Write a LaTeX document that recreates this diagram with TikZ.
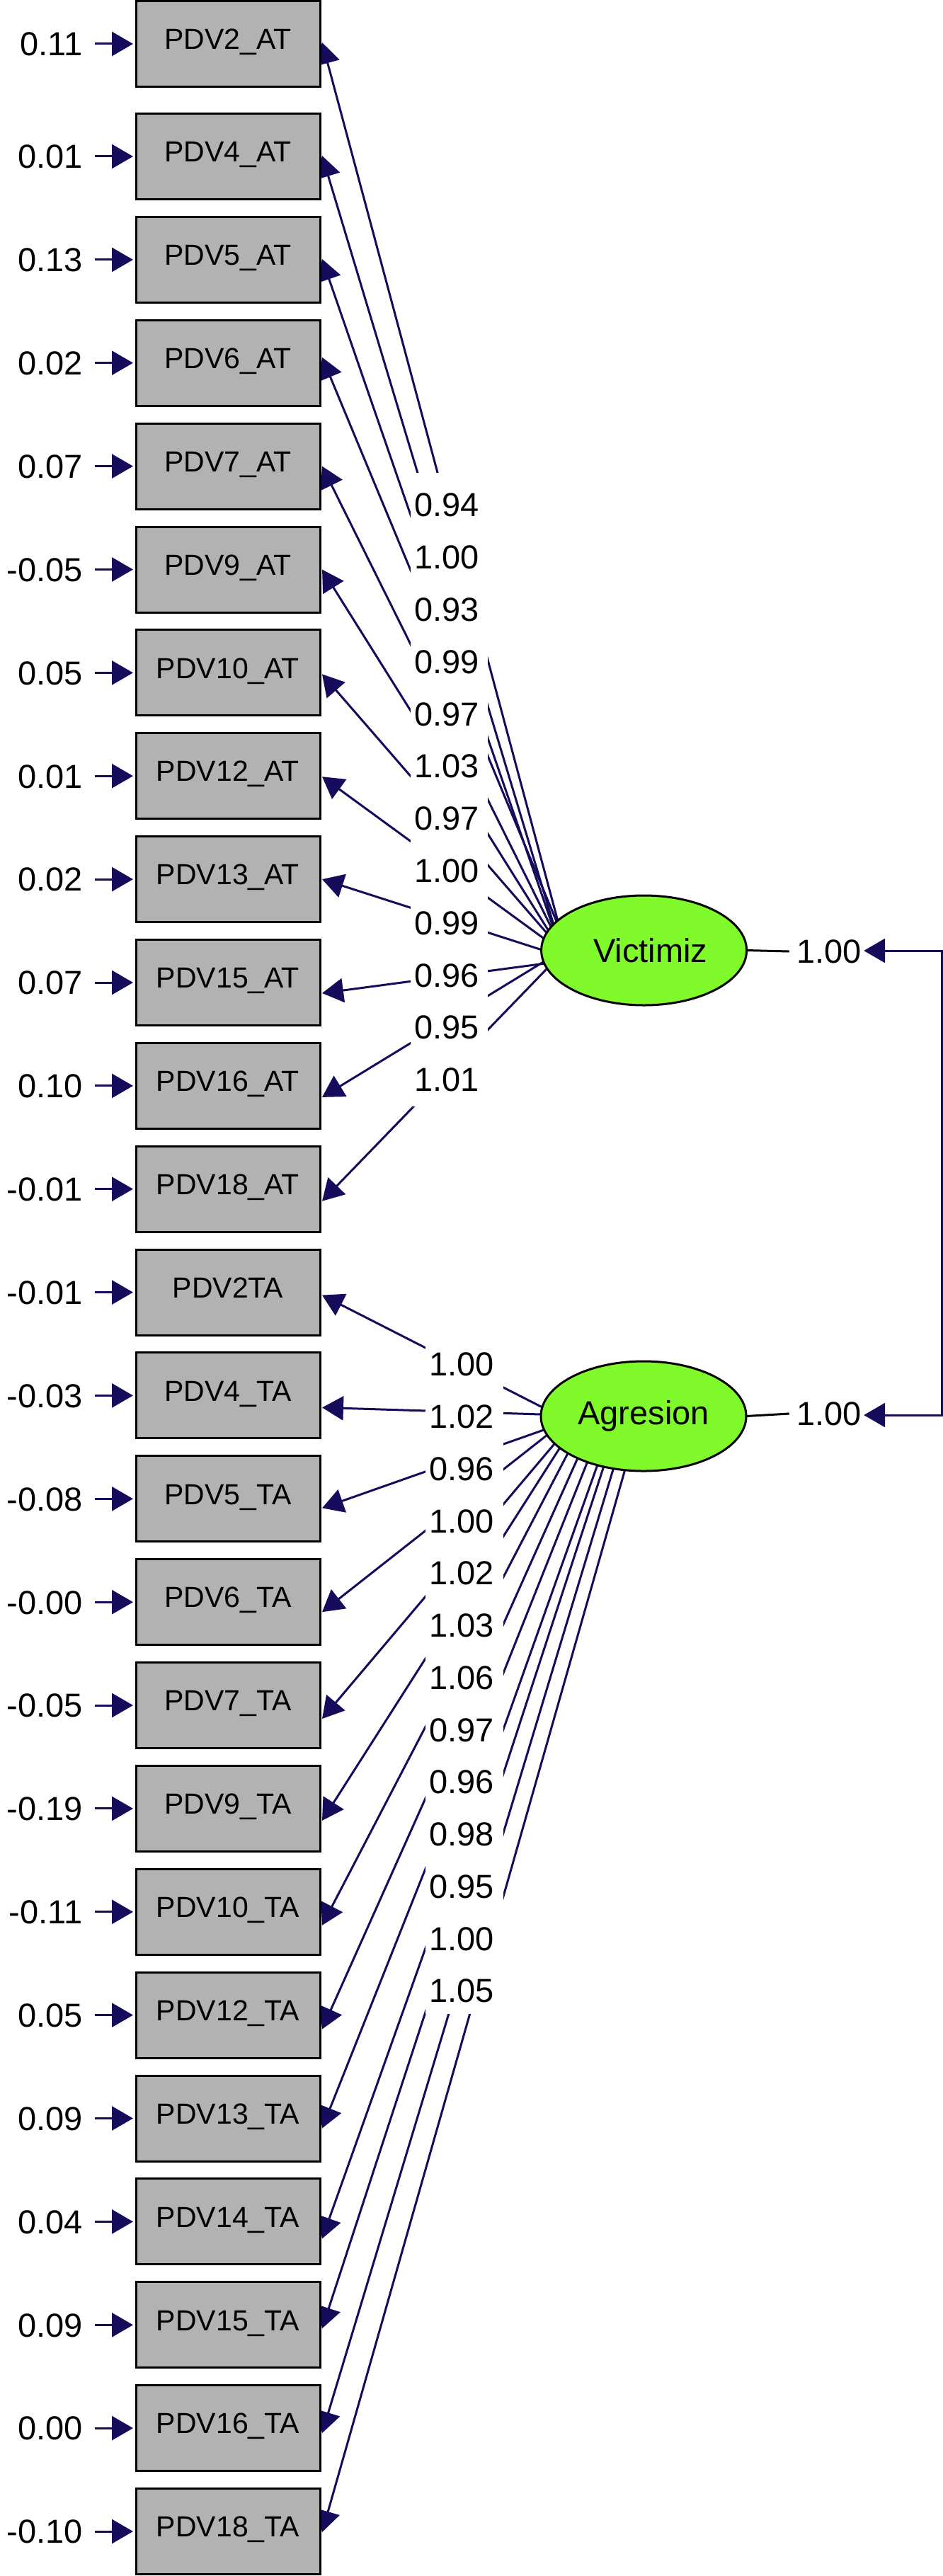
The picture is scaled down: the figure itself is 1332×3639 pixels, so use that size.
\documentclass[tikz,border=0pt]{standalone}
\usepackage{fontspec}
\setmainfont{Liberation Sans}
\usetikzlibrary{arrows.meta,calc,shapes.geometric}
\definecolor{navy}{RGB}{22,12,92}
\definecolor{lime}{RGB}{128,250,42}
\definecolor{boxgray}{RGB}{178,178,178}
\pgfdeclarelayer{bg}
\pgfsetlayers{bg,main}
\begin{document}
\begin{tikzpicture}[x=0.5pt,y=-0.5pt,
  obs/.style={draw=black, line width=1.5pt, fill=boxgray, minimum width=130pt, minimum height=60.5pt,
    inner sep=0pt, outer sep=0pt, font=\fontsize{20.5pt}{24pt}\selectfont, text height=14.7pt, text depth=7pt},
  lat/.style={ellipse, draw=black, line width=1.5pt, fill=lime, minimum width=145pt, minimum height=77.5pt,
    inner sep=0pt, outer sep=0pt, font=\fontsize{23.5pt}{28pt}\selectfont},
  num/.style={font=\fontsize{23.5pt}{28pt}\selectfont, inner sep=0pt, text height=16.8pt, text depth=0pt},
  tip/.style={-{Triangle[length=15pt,width=17pt]}},
  load/.style={draw=navy, line width=1.5pt, tip},
  errarr/.style={draw=navy, line width=1.5pt, tip},
  cov/.style={draw=navy, line width=1.5pt, {Triangle[length=15pt,width=17pt]}-{Triangle[length=15pt,width=17pt]}},
  varline/.style={draw=black, line width=1.5pt}
]
\useasboundingbox (0,0) rectangle (1332,3639);

% observed variables and their error terms
\foreach \k/\yy/\nm/\ev in {
 0/62/PDV2\_AT/0.11,
 1/221/PDV4\_AT/0.01,
 2/366.9/PDV5\_AT/0.13,
 3/512.7/PDV6\_AT/0.02,
 4/658.6/PDV7\_AT/0.07,
 5/804.5/PDV9\_AT/-0.05,
 6/950.4/PDV10\_AT/0.05,
 7/1096.2/PDV12\_AT/0.01,
 8/1242.1/PDV13\_AT/0.02,
 9/1388/PDV15\_AT/0.07,
 10/1533.9/PDV16\_AT/0.10,
 11/1679.7/PDV18\_AT/-0.01,
 12/1825.6/PDV2TA/-0.01,
 13/1971.4/PDV4\_TA/-0.03,
 14/2117.3/PDV5\_TA/-0.08,
 15/2263.2/PDV6\_TA/-0.00,
 16/2409/PDV7\_TA/-0.05,
 17/2554.9/PDV9\_TA/-0.19,
 18/2700.8/PDV10\_TA/-0.11,
 19/2846.6/PDV12\_TA/0.05,
 20/2992.5/PDV13\_TA/0.09,
 21/3138.4/PDV14\_TA/0.04,
 22/3284.3/PDV15\_TA/0.09,
 23/3430.1/PDV16\_TA/0.00,
 24/3576/PDV18\_TA/-0.10}{
  \node[obs] (b\k) at (322,\yy) {\nm};
  \node[num, anchor=east] (e\k) at (117,\yy) {\ev};
  \draw[errarr] ([xshift=8.5pt]e\k.east) -- ([xshift=-2pt]b\k.west);
}

% latent variables
\node[lat] (V) at (909.6,1342.5) {\hspace*{9pt}Victimiz};
\node[lat] (A) at (909,2000.5) {Agresion};

% loadings of Victimiz
\foreach \k/\dy/\ey in {0/-2/1346, 1/-1/1366, 2/-1/1364, 3/-8/1335, 4/0/1353, 5/0/1355,
  6/2/1350, 7/1/1349, 8/0/1353, 9/15/1357, 10/16/1339, 11/17/1340}{
  \coordinate (vin\k) at (800,\ey);
  \begin{pgfonlayer}{bg}
    \draw[load] (vin\k) -- ([shift={(3,\dy)}]b\k.east);
  \end{pgfonlayer}
}

% loadings of Agresion
\foreach \k/\dy/\ex/\ey in {12/4/766/1988, 13/17/764/1998, 14/13/768/2020, 15/14/773/2027,
  16/19/782/2041, 17/17/789/2048, 18/19/801/2055, 19/20/815/2062, 20/14/829/2067,
  21/24/843/2072, 22/5/852/2074, 23/7/866/2076, 24/1/882/2079}{
  \coordinate (t\k) at ([shift={(3,\dy)}]b\k.east);
  \coordinate (ain\k) at ($(t\k)!1.03!(\ex,\ey)$);
  \begin{pgfonlayer}{bg}
    \draw[load] (ain\k) -- (t\k);
  \end{pgfonlayer}
}

% label columns (opaque background of the coefficients)
\fill[white] (580,668) rectangle (689,1563);
\fill[white] (601,1888) rectangle (711,2845);

\foreach \i/\lab/\ly in {0/0.94/713, 1/1.00/786.8, 2/0.93/860.6, 3/0.99/934.4, 4/0.97/1008.2,
  5/1.03/1082, 6/0.97/1155.8, 7/1.00/1229.6, 8/0.99/1303.4, 9/0.96/1377.2, 10/0.95/1451, 11/1.01/1524.8}{
  \node[num] (lv\i) at (631,\ly) {\lab};
}
\foreach \i/\lab/\ly in {12/1.00/1927, 13/1.02/2000.75, 14/0.96/2074.5, 15/1.00/2148.25, 16/1.02/2222,
  17/1.03/2295.75, 18/1.06/2369.5, 19/0.97/2443.25, 20/0.96/2517, 21/0.98/2590.75, 22/0.95/2664.5,
  23/1.00/2738.25, 24/1.05/2812}{
  \node[num] (la\i) at (652,\ly) {\lab};
}

% variances and covariance
\node[num] (rv) at (1171,1344) {1.00};
\node[num] (ra) at (1171,1997) {1.00};
\draw[varline] (V.east) -- ([xshift=-5pt]rv.west);
\draw[varline] (A.east) -- ([xshift=-5pt]ra.west);
\coordinate (cv) at (1330,1343);
\coordinate (ca) at (1330,1999);
\draw[cov] ([shift={(3,-1)}]rv.east) -- (cv) -- (ca) -- ([shift={(3,2)}]ra.east);
\end{tikzpicture}
\end{document}
